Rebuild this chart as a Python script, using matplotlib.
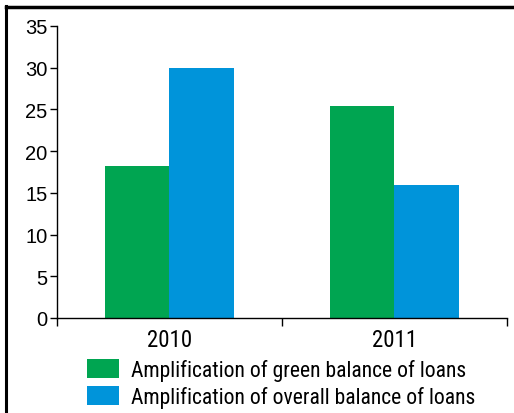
import numpy as np
import matplotlib.pyplot as plt
from matplotlib.lines import Line2D

plt.rcParams['font.family'] = ['Liberation Sans', 'DejaVu Sans']
NARROW = ['Roboto Condensed', 'Liberation Sans', 'DejaVu Sans']

years = ['2010', '2011']
green_growth = [18.2, 25.4]
overall_growth = [30.0, 16.0]
series_names = ['Amplification of green balance of loans',
                'Amplification of overall balance of loans']

GREEN = '#00a551'
BLUE = '#0094da'

fig = plt.figure(figsize=(5.14, 4.14), dpi=100)
ax = fig.add_axes([0.111, 0.2295, 0.875, 0.7053])

x = np.arange(len(years))
w = 0.286
ax.bar(x - w / 2, green_growth, w, color=GREEN, label=series_names[0])
ax.bar(x + w / 2, overall_growth, w, color=BLUE, label=series_names[1])

ax.set_xlim(-0.5, 1.5)
ax.set_ylim(0, 35)
ax.set_yticks(range(0, 36, 5))
ax.set_xticks([-0.5, 0.5, 1.5])
ax.set_xticklabels([])
ax.set_xticks(x, minor=True)
ax.set_xticklabels(years, minor=True, family=NARROW, fontsize=16.5)
ax.tick_params(axis='x', which='minor', length=0, pad=7)
ax.tick_params(axis='x', which='major', length=6, width=1)
ax.tick_params(axis='y', length=5, width=1, pad=2, labelsize=14.5)

for side in ['top', 'right']:
    ax.spines[side].set_visible(False)
for side in ['left', 'bottom']:
    ax.spines[side].set_linewidth(1)

ax.legend(loc='upper left', bbox_to_anchor=(0.169, 0.131),
          bbox_transform=fig.transFigure, frameon=False,
          prop={'family': NARROW, 'size': 15.6},
          handlelength=1.5, handleheight=1.0, handletextpad=0.55,
          labelspacing=0.22, borderpad=0, borderaxespad=0)

# outer frame along top and left edge
fig.add_artist(Line2D([0.011, 1.0], [0.9795, 0.9795], transform=fig.transFigure,
                      color='black', linewidth=2.5))
fig.add_artist(Line2D([0.0125, 0.0125], [0.0, 0.9825], transform=fig.transFigure,
                      color='black', linewidth=2.2))

fig.savefig('out.png', dpi=100)
